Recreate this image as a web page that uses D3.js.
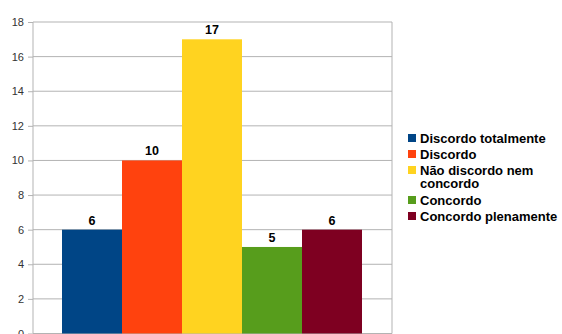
<!DOCTYPE html>
<html lang="pt">
<head>
  <meta charset="UTF-8">
  <title>Respostas</title>
  <script src="https://d3js.org/d3.v7.min.js"></script>
  <style>
    body { margin: 0; background: #fff; font-family: "Liberation Sans", Arial, sans-serif; }
    svg { display: block; }
  </style>
</head>
<body>
  <div id="vis"></div>
  <script>
    const series = ["Discordo totalmente", "Discordo", "Não discordo nem concordo", "Concordo", "Concordo plenamente"];
    const values = [6, 10, 17, 5, 6];
    const colors = ["#004586", "#ff420e", "#ffd320", "#579d1c", "#7e0021"];
    const legendLines = [["Discordo totalmente"], ["Discordo"], ["Não discordo nem", "concordo"], ["Concordo"], ["Concordo plenamente"]];
    const yTicks = [0, 2, 4, 6, 8, 10, 12, 14, 16, 18];

    const W = 562, H = 334;
    const margin = { top: 22, right: 170, bottom: 0, left: 33 };
    const width = 392 - margin.left;
    const height = 333.5 - margin.top;

    const svg = d3.select("#vis").append("svg").attr("width", W).attr("height", H);
    const g = svg.append("g").attr("transform", `translate(${margin.left},${margin.top})`);

    const y = d3.scaleLinear().domain([0, 18]).range([height, 0]);
    const x = d3.scaleBand().domain(series).range([29, width - 30]).padding(0);

    // grid
    g.selectAll(".grid").data(yTicks).enter().append("line")
      .attr("x1", 0).attr("x2", width)
      .attr("y1", d => y(d)).attr("y2", d => y(d))
      .attr("stroke", "#b3b3b3").attr("stroke-width", 1);

    g.append("line").attr("x1", width).attr("x2", width).attr("y1", 0).attr("y2", height)
      .attr("stroke", "#b3b3b3");

    // bars
    g.selectAll(".bar").data(values).enter().append("rect")
      .attr("x", (d, i) => x(series[i]))
      .attr("width", x.bandwidth())
      .attr("y", d => y(d))
      .attr("height", d => height - y(d))
      .attr("fill", (d, i) => colors[i]);

    g.selectAll(".val").data(values).enter().append("text")
      .attr("x", (d, i) => x(series[i]) + x.bandwidth() / 2)
      .attr("y", d => y(d) - 5)
      .attr("text-anchor", "middle")
      .style("font-size", "12.5px").style("font-weight", "bold").attr("fill", "#000")
      .text(d => d);

    // y axis
    const axis = g.append("g").call(d3.axisLeft(y).tickValues(yTicks).tickSize(5).tickPadding(4));
    axis.select(".domain").attr("stroke", "#b3b3b3").attr("d", `M0,0V${height}`);
    axis.selectAll(".tick line").attr("stroke", "#b3b3b3");
    axis.selectAll("text").style("font-size", "11px").attr("fill", "#333")
      .style("font-family", "'Liberation Sans', Arial, sans-serif");

    // legend
    const legend = svg.append("g").attr("transform", "translate(408,0)");
    const rowY = [138, 154, 170, 200, 216];
    legendLines.forEach((lines, i) => {
      legend.append("rect").attr("x", 0).attr("y", rowY[i] - 4).attr("width", 8).attr("height", 8)
        .attr("fill", colors[i]);
      lines.forEach((t, j) => {
        legend.append("text").attr("x", 12).attr("y", rowY[i] + 4.5 + j * 13.5)
          .style("font-size", "13px").style("font-weight", "bold").attr("fill", "#000")
          .text(t);
      });
    });
  </script>
</body>
</html>
